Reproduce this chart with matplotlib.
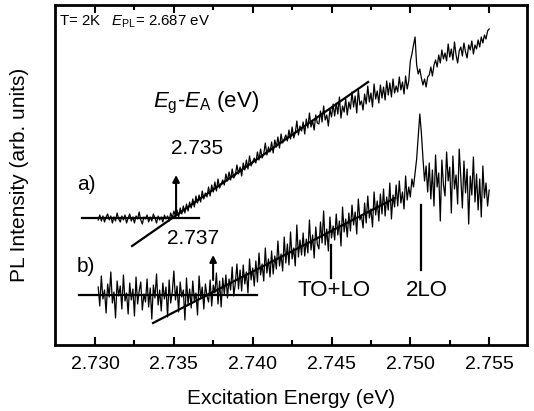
import numpy as np
import matplotlib
matplotlib.use("Agg")
import matplotlib.pyplot as plt

plt.rcParams['font.family'] = ['Liberation Sans', 'DejaVu Sans']
plt.rcParams['mathtext.fontset'] = 'custom'
plt.rcParams['mathtext.rm'] = 'Liberation Sans'
plt.rcParams['mathtext.it'] = 'Liberation Sans:italic'

# excitation energy grid (eV), 0.1 meV steps
energy = np.round(np.arange(2.7302, 2.75505, 0.0001), 4)

# spectrum a) PL intensity (arb. units)
pl_a = [
    12.5, 13.0, 12.4, 12.9, 12.3, 12.8, 13.1, 12.5, 12.9, 12.2,
    12.8, 12.4, 13.2, 12.6, 12.3, 12.9, 12.5, 13.0, 12.2, 12.7,
    13.1, 12.4, 12.8, 12.2, 12.9, 12.6, 13.3, 12.5, 12.1, 12.8,
    12.6, 13.0, 12.3, 12.8, 12.4, 13.1, 12.7, 12.2, 12.9, 12.5,
    12.8, 12.3, 13.0, 12.6, 12.9, 12.4, 13.2, 12.7, 13.4, 12.9,
    13.5, 12.8, 13.7, 13.1, 13.9, 13.2, 14.1, 13.4, 14.3, 13.7,
    14.6, 13.8, 14.9, 14.2, 15.0, 14.3, 15.4, 14.6, 15.2, 14.8,
    15.8, 14.9, 16.0, 15.3, 16.3, 15.4, 16.6, 15.7, 16.1, 16.5,
    16.0, 17.1, 16.4, 17.3, 16.5, 17.6, 16.7, 17.0, 18.0, 17.1,
    17.8, 16.9, 18.2, 17.5, 18.5, 17.6, 18.9, 17.9, 18.3, 18.7,
    18.2, 19.3, 18.5, 19.6, 18.7, 19.1, 20.2, 19.0, 19.8, 19.3,
    20.3, 19.2, 20.5, 19.8, 20.8, 19.7, 21.1, 20.2, 20.6, 21.0,
    20.4, 21.5, 20.6, 21.8, 20.7, 21.2, 22.4, 21.0, 21.9, 21.4,
    22.3, 21.1, 22.6, 21.7, 23.2, 21.8, 22.4, 21.5, 23.0, 22.2,
    22.1, 23.4, 22.3, 23.9, 22.5, 23.0, 21.9, 23.6, 22.8, 24.1,
    22.9, 24.2, 23.1, 24.8, 22.7, 23.9, 23.3, 24.6, 23.0, 24.3,
    23.6, 25.3, 23.8, 24.9, 23.2, 25.6, 24.0, 24.4, 23.5, 25.1,
    24.1, 25.9, 24.3, 25.2, 23.8, 26.1, 24.6, 25.4, 24.2, 26.0,
    24.7, 25.8, 24.5, 26.4, 25.0, 26.2, 24.8, 26.6, 25.2, 25.9,
    25.3, 26.8, 25.5, 26.3, 25.1, 26.9, 25.6, 26.4, 28.4, 29.1,
    30.0, 30.8, 28.0, 27.1, 27.6, 26.7, 26.0, 26.6, 25.8, 26.8,
    27.0, 27.8, 26.9, 28.0, 28.5, 27.8, 29.0, 28.2, 29.5, 28.6,
    29.2, 28.4, 30.1, 28.8, 29.6, 28.5, 30.3, 29.0, 28.2, 29.4,
    29.8, 28.9, 30.2, 29.3, 28.7, 30.0, 29.5, 30.4, 29.1, 30.0,
    29.6, 30.5, 29.8, 30.8, 30.2, 31.0, 30.6, 31.4, 31.6,
]

# spectrum b) PL intensity (arb. units)
pl_b = [
    5.8, 3.9, 6.9, 4.6, 5.5, 3.2, 6.1, 4.8, 7.3, 4.2,
    5.3, 2.7, 6.4, 4.9, 5.9, 3.6, 7.0, 4.4, 5.2, 3.1,
    6.2, 4.5, 5.6, 2.9, 6.8, 4.1, 5.4, 6.3, 3.5, 5.1,
    4.3, 6.6, 3.8, 5.7, 2.6, 6.0, 4.7, 7.1, 4.0, 5.5,
    3.4, 6.2, 4.6, 5.8, 2.8, 6.5, 4.2, 5.3, 7.4, 4.5,
    5.9, 3.3, 6.3, 4.8, 5.5, 2.5, 6.7, 4.1, 5.6, 3.7,
    6.4, 4.4, 5.2, 3.0, 6.9, 4.7, 5.8, 3.6, 6.1, 4.9,
    4.3, 6.5, 3.9, 6.0, 5.2, 7.2, 4.1, 6.4, 3.8, 6.7,
    5.1, 7.0, 4.7, 6.6, 5.5, 7.8, 4.9, 6.2, 8.1, 5.6,
    7.5, 5.4, 8.0, 6.1, 7.3, 5.2, 8.6, 6.5, 7.7, 5.9,
    8.4, 6.3, 9.2, 7.0, 8.1, 6.4, 9.7, 7.2, 8.6, 6.8,
    9.4, 7.1, 8.9, 7.6, 10.4, 7.9, 9.1, 7.4, 10.8, 8.2,
    10.1, 8.0, 11.3, 8.6, 9.7, 7.9, 12.0, 8.8, 10.5, 9.0,
    11.2, 8.9, 10.6, 9.2, 12.5, 9.5, 11.0, 8.7, 11.8, 10.1,
    9.6, 12.3, 10.2, 13.4, 10.0, 11.6, 9.4, 12.8, 10.7, 11.9,
    10.5, 13.1, 11.0, 12.4, 9.9, 13.8, 11.3, 12.6, 10.8, 13.2,
    11.4, 14.0, 12.0, 13.3, 11.1, 14.6, 12.5, 13.0, 11.7, 14.2,
    12.2, 14.9, 12.7, 13.6, 11.8, 15.3, 13.0, 14.4, 12.4, 15.1,
    13.1, 15.6, 12.9, 14.8, 13.5, 16.2, 12.6, 15.0, 13.8, 16.0,
    13.9, 16.4, 14.2, 15.3, 13.6, 16.9, 14.5, 15.8, 14.8, 16.6,
    15.8, 17.2, 18.6, 20.8, 23.1, 21.2, 18.7, 16.4, 17.9, 15.3,
    18.2, 14.6, 17.5, 13.9, 19.0, 15.8, 17.2, 12.4, 18.5, 16.0,
    14.9, 19.3, 16.4, 17.8, 13.2, 18.9, 15.6, 17.0, 14.1, 19.6,
    16.8, 13.7, 18.4, 15.2, 17.6, 12.1, 16.9, 15.0, 18.8, 14.3,
    17.1, 13.5, 16.6, 12.8, 17.9, 14.7, 16.2, 13.9, 15.5,
]

# baseline and linear-fit lines (end points)
base_a_x = [2.7292, 2.7366]
base_a_y = [12.7, 12.7]
fit_a_x = [2.73235, 2.74732]
fit_a_y = [9.9, 26.3]
base_b_x = [2.7290, 2.7403]
base_b_y = [5.0, 5.0]
fit_b_x = [2.73368, 2.74904]
fit_b_y = [2.2, 14.7]

onset_a = 2.73514
onset_b = 2.73749
phonon_tolo = 2.74498
phonon_2lo = 2.75069

ticks = [2.730, 2.735, 2.740, 2.745, 2.750, 2.755]
tick_labels = ["2.730", "2.735", "2.740", "2.745", "2.750", "2.755"]
minor_ticks = [2.7325, 2.7375, 2.7425, 2.7475, 2.7525]

fig = plt.figure(figsize=(5.34, 4.11), dpi=100)
ax = fig.add_axes([55 / 534, 66 / 411, 472 / 534, 340 / 411])

ax.plot(energy, pl_a, color='black', lw=0.9)
ax.plot(energy, pl_b, color='black', lw=0.9)

ax.plot(base_a_x, base_a_y, color='black', lw=1.6)
ax.plot(fit_a_x, fit_a_y, color='black', lw=1.6)
ax.plot(base_b_x, base_b_y, color='black', lw=1.6)
ax.plot(fit_b_x, fit_b_y, color='black', lw=1.6)

arrow = dict(arrowstyle='-|>', color='black', lw=1.5, mutation_scale=10,
             shrinkA=0, shrinkB=0)
ax.annotate('', xy=(onset_a, 17.0), xytext=(onset_a, 13.2), arrowprops=arrow)
ax.annotate('', xy=(onset_b, 9.0), xytext=(onset_b, 6.5), arrowprops=arrow)

ax.plot([phonon_tolo, phonon_tolo], [6.7, 10.0], color='black', lw=1.6)
ax.plot([phonon_2lo, phonon_2lo], [7.5, 14.0], color='black', lw=1.6)

ax.text(phonon_tolo + 0.00018, 5.4, "TO+LO", fontsize=16, ha='center', va='center')
ax.text(phonon_2lo + 0.00038, 5.4, "2LO", fontsize=16, ha='center', va='center')

ax.text(2.73704, 24.2, r"$E_{\rm g}$-$E_{\rm A}$ (eV)", fontsize=16, ha='center', va='center')
ax.text(2.73647, 19.7, "2.735", fontsize=15, ha='center', va='center')
ax.text(2.73622, 10.7, "2.737", fontsize=15, ha='center', va='center')
ax.text(2.72943, 16.0, "a)", fontsize=15, ha='center', va='center')
ax.text(2.72943, 7.8, "b)", fontsize=15, ha='center', va='center')

ax.text(0.008, 0.95, r"T= 2K   $E_{\rm PL}$= 2.687 eV", fontsize=10.8,
        transform=ax.transAxes, ha='left', va='center')

ax.set_xlim(2.72746, 2.7574)
ax.set_ylim(0, 34)
ax.set_xticks(ticks)
ax.set_xticklabels(tick_labels, fontsize=14)
ax.set_xticks(minor_ticks, minor=True)
ax.set_yticks([])
ax.tick_params(axis='x', which='both', direction='in', top=True, width=1.5)
ax.tick_params(axis='x', which='major', length=6, pad=8)
ax.tick_params(axis='x', which='minor', length=3.5)
for s in ax.spines.values():
    s.set_linewidth(2.0)

fig.text(291 / 534, 0.030, "Excitation Energy (eV)", fontsize=15, ha='center', va='center')
fig.text(20 / 534, 0.574, "PL Intensity (arb. units)", fontsize=15, rotation=90,
         ha='center', va='center')

fig.savefig("out.png", dpi=100)
